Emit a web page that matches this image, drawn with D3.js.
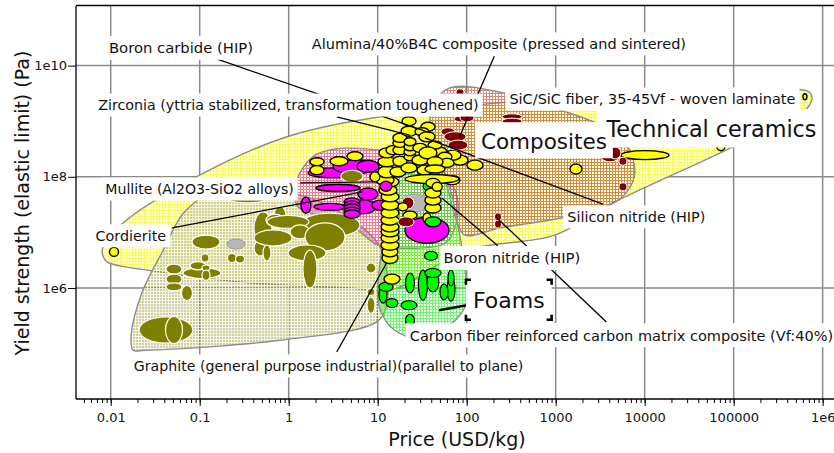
<!DOCTYPE html>
<html><head><meta charset="utf-8">
<script src="https://cdn.jsdelivr.net/npm/d3@7/dist/d3.min.js"></script>
<style>html,body{margin:0;padding:0;background:#fff}svg{display:block}text{font-family:"DejaVu Sans",Verdana,sans-serif;fill:#111}</style>
</head><body><svg id="c" width="834" height="453"></svg>
<script>
// All coordinates: log10(price USD/kg), log10(yield Pa). Bubbles: [logP, logY, halfSpanP, halfSpanY]
const envCeramics=[[-2.09,6.59],[-2.04,6.47],[-1.45,6.29],[-.43,6.09],[.69,6.0],[1.14,5.96],[2.0,6.68],[2.99,6.95],[3.64,7.53],[4.99,8.54],[5.84,9.26],[5.86,9.51],[4.62,9.47],[2.37,9.33],[1.03,9.08],[-.02,8.72],[-1.0,8.03],[-1.86,7.17],[-2.09,6.72]];
const envComposites=[[1.81,9.6],[2.41,9.51],[3.05,9.2],[3.5,8.93],[3.8,8.57],[3.89,8.07],[3.8,7.73],[3.61,7.49],[3.06,7.26],[2.37,7.08],[1.98,6.95],[1.89,7.19],[1.79,7.76],[1.59,8.84],[1.62,9.29]];
const envOlive=[[-1.75,4.885],[-1.77,5.15],[-1.65,5.91],[-1.41,6.68],[-1.17,7.37],[-.83,7.73],[.13,7.67],[.63,7.31],[1.0,6.81],[1.09,6.41],[1.1,5.69],[.99,5.39],[-.1,5.06],[-1.61,4.88]];
const envPink=[[.09,7.94],[.27,8.36],[.52,8.5],[1.03,8.48],[1.59,8.3],[1.87,7.76],[1.89,7.22],[1.76,6.81],[1.19,6.72],[1.0,6.77],[.69,7.13],[.24,7.35],[.09,7.49]];
const envFoams=[[1.0,5.96],[1.03,5.6],[1.19,5.24],[1.48,5.1],[1.81,5.33],[2.01,5.78],[1.98,6.32],[1.9,7.13],[1.76,7.94],[1.48,8.21],[1.19,7.94],[1.08,7.04]];

const oliveBubbles=[[.464,7.13,.337,.216],[-.322,6.72,.067,.144],[-.289,7.08,.101,.288],[-.098,7.31,.067,.162],[-.154,7.22,.101,.108],[-.008,7.19,.236,.117],[.127,7.01,.112,.126],[-.176,6.9,.213,.144],[.408,6.92,.225,.252],[.206,6.63,.213,.144],[-.244,6.63,.045,.144],[.239,6.34,.079,.342],[-1.379,5.245,.303,.234],[-1.289,5.245,.096,.243],[-.929,6.827,.157,.126],[-.637,6.54,.051,.081],[-.547,6.52,.051,.072],[-.974,6.27,.213,.099],[-1.289,6.34,.09,.09],[-1.289,6.16,.09,.09],[-1.289,6.02,.09,.072],[-.94,6.54,.045,.072],[-1.02,6.4,.09,.072],[-.929,6.36,.045,.054],[-.929,6.23,.045,.09],[-1.143,5.91,.062,.135],[.925,6.36,.056,.09],[.925,5.93,.045,.063],[.925,5.69,.045,.144],[-.469,7.62,.225,.09]];
const grayBubbles=[[-.592,6.79,.101,.09],[1.419,7.53,.157,.162]];
const magentaBubbles=[[.498,8.07,.281,.09],[.745,8.18,.247,.126],[.891,8.19,.124,.108],[.554,7.8,.247,.063],[.891,7.69,.112,.108],[.464,7.46,.18,.063],[.824,7.46,.157,.126],[.711,7.55,.09,.072],[.711,7.49,.09,.072],[.711,7.44,.09,.072],[.711,7.38,.09,.072],[.711,7.33,.09,.072],[.194,7.49,.056,.144],[1.026,7.49,.09,.09],[1.554,7.04,.247,.234]];
const oliveOnPink=[[.711,8.01,.124,.108]];
const maroonBack=[[1.644,8.48,.079,.126],[1.34,7.53,.067,.108]];
const greenBubbles=[[1.599,6.58,.073,.081],[1.363,6.09,.051,.18],[1.509,6.05,.051,.27],[1.621,6.11,.067,.18],[1.621,6.27,.09,.081],[1.824,5.98,.045,.216],[1.824,6.18,.034,.144],[1.745,5.93,.045,.144],[1.06,5.89,.045,.162],[1.093,6.02,.079,.081],[1.16,5.73,.067,.081],[1.352,5.69,.09,.081],[1.363,5.42,.051,.108],[1.565,7.83,.056,.072]];
const yellowBubbles=[[-1.963,6.65,.051,.081],[5.801,9.44,.022,.054],[4.857,8.54,.045,.072],[4.003,8.39,.27,.081],[3.228,8.14,.067,.09],[2.093,8.21,.09,.09],[1.925,8.3,.09,.09],[1.846,8.39,.09,.09],[1.835,7.94,.09,.081],[.318,8.27,.079,.072],[.318,8.12,.079,.081],[.565,8.28,.101,.081],[.745,8.37,.09,.081],[1.161,6.16,.09,.09],
[1.138,6.54,.09,.1],[1.138,6.65,.09,.09],[1.138,6.77,.101,.09],[1.138,6.9,.101,.09],[1.138,7.01,.101,.09],[1.138,7.1,.101,.09],[1.138,7.22,.101,.09],[1.138,7.35,.101,.09],[1.138,7.49,.101,.09],[1.138,7.64,.101,.09],[1.116,7.76,.101,.09],[1.138,7.91,.101,.09],[1.284,7.46,.056,.072],[1.363,7.31,.079,.072],[1.082,7.94,.101,.09],[.97,8.0,.056,.09],[1.104,8.09,.101,.108],[1.228,8.09,.09,.09],[1.104,8.27,.101,.09],[1.25,8.28,.079,.09],[1.104,8.43,.09,.09],[1.172,8.48,.079,.081],[1.25,8.48,.079,.081],[1.25,8.61,.079,.081],[1.25,8.7,.079,.081],[1.352,9.0,.079,.081],[1.363,8.36,.067,.072],[1.363,8.45,.067,.072],[1.363,8.54,.067,.072],[1.363,8.63,.067,.072],[1.352,8.82,.09,.09],[1.352,8.16,.09,.09],[1.565,8.9,.079,.081],[1.498,8.81,.079,.072],[1.554,8.72,.09,.09],[1.475,8.52,.079,.081],[1.7,8.45,.079,.081],[1.644,8.57,.079,.072],[1.756,8.36,.079,.081],[1.779,8.25,.079,.081],[1.475,8.3,.09,.09],[1.531,8.12,.09,.09],[1.565,8.43,.101,.108],[1.644,8.27,.09,.09],[1.644,8.14,.112,.072],[1.61,7.96,.303,.081],[1.554,7.26,.045,.09],[1.621,7.44,.09,.09],[1.621,7.58,.09,.09],[1.621,7.71,.09,.09],[1.621,7.89,.079,.081],[1.669,7.82,.056,.081]];
const magentaTop=[[1.093,7.83,.067,.09]];
const greenTop=[[1.621,7.19,.09,.09]];
const maroonFront=[[1.925,9.51,.045,.072],[1.947,9.04,.09,.054],[2.003,9.06,.079,.072],[2.51,9.08,.112,.054],[2.51,9.0,.112,.054],[1.79,8.81,.079,.072],[1.869,8.72,.124,.09],[1.902,8.57,.112,.09],[3.61,8.36,.101,.09],[3.666,8.43,.067,.108],[3.756,8.28,.045,.072],[3.756,7.82,.045,.072],[2.352,7.28,.039,.072],[2.352,7.15,.039,.072],[1.318,7.19,.09,.09]];

const leaders=[[-.81,10.12,1.59,8.79],[3.53,7.51,1.53,8.7],[.54,9.08,1.36,8.75],[2.31,10.17,1.92,8.72],[.13,7.89,.98,7.91],[-1.31,7.08,.83,7.73],[1.72,7.62,2.35,6.76],[2.34,7.26,3.57,5.39],[.54,4.85,1.1,6.45]];
const foamLeader=[1.69,5.6,2.0,5.69];

const labelTexts=["Boron carbide (HIP)","Alumina/40%B4C composite (pressed and sintered)","Zirconia (yttria stabilized, transformation toughened)","SiC/SiC fiber, 35-45Vf - woven laminate","Silicon nitride (HIP)","Boron nitride (HIP)","Carbon fiber reinforced carbon matrix composite (Vf:40%)","Mullite (Al2O3-SiO2 alloys)","Cordierite","Graphite (general purpose industrial)(parallel to plane)"];
const labelAt=[[-2.02,10.32],[.26,10.39],[-2.14,9.29],[2.48,9.4],[3.13,7.28],[1.74,6.54],[1.36,5.15],[-2.06,7.78],[-2.17,6.94],[-1.74,4.6]];
const labelPt=[14.8,14.5,14.25,14.5,14.45,14.8,14.55,14.1,14.3,14.15];
const bigTexts=["Technical ceramics","Composites","Foams"];
const bigAt=[[3.57,8.86],[2.16,8.64],[2.07,5.77]];
const xTickLabels=["0.01","0.1","1","10","100","1000","10000","100000","1e6"];
const xMajor=[1e-2,1e-1,1,10,100,1000,1e4,1e5,1e6];
const yTickLabels=["1e6","1e8","1e10"];
const yMajor=[1e6,1e8,1e10];

const svg=d3.select("#c");
const x=d3.scaleLog().domain([Math.pow(10,-2.39),Math.pow(10,6.195)]).range([76,840]);
const y=d3.scaleLog().domain([Math.pow(10,4.004),Math.pow(10,11.072)]).range([399,6]);
const X=l=>x(Math.pow(10,l)),Y=l=>y(Math.pow(10,l));

const defs=svg.append("defs");
function pat(id,col,size,bg,op){
  const p=defs.append("pattern").attr("id",id).attr("width",size).attr("height",size).attr("patternUnits","userSpaceOnUse");
  if(bg)p.append("rect").attr("width",size).attr("height",size).attr("fill",bg);
  p.append("rect").attr("width",size).attr("height",1).attr("fill",col).attr("opacity",op);
  p.append("rect").attr("y",1).attr("width",1).attr("height",size-1).attr("fill",col).attr("opacity",op);
}
pat("pCer","#ffff50",3,"#ffffe8",1);
pat("pCom","#b84f38",3,null,.65);
pat("pOli","#ffffff",3,"rgba(128,128,0,.38)",.8);
pat("pPin","#f040c0",3,null,.7);
pat("pFoa","#20f820",3,null,.65);

// grid
const g=svg.append("g").attr("stroke","#8a8a8a").attr("stroke-width",1.5);
g.selectAll("line.v").data(xMajor).join("line").attr("x1",d=>x(d)).attr("x2",d=>x(d)).attr("y1",6).attr("y2",399);
g.selectAll("line.h").data(yMajor).join("line").attr("y1",d=>y(d)).attr("y2",d=>y(d)).attr("x1",76).attr("x2",834);

// envelopes
const env=d3.line().x(d=>X(d[0])).y(d=>Y(d[1])).curve(d3.curveCatmullRomClosed.alpha(.5));
[[envCeramics,"pCer"],[envOlive,"pOli"],[envPink,"pPin"],[envComposites,"pCom"],[envFoams,"pFoa"]].forEach(([d,p])=>{
  svg.append("path").attr("d",env(d)).attr("fill","url(#"+p+")").attr("stroke","#8c8c8c").attr("stroke-width",1.4);
});

// bubbles
function bubbles(data,fill,stroke,sw){
  svg.append("g").selectAll("ellipse").data(data).join("ellipse")
    .attr("cx",d=>X(d[0])).attr("cy",d=>Y(d[1]))
    .attr("rx",d=>X(d[0]+d[2])-X(d[0])).attr("ry",d=>Y(d[1])-Y(d[1]+d[3]))
    .attr("fill",fill).attr("stroke",stroke).attr("stroke-width",sw);
}
bubbles(oliveBubbles,"#808000","#fff",1.2);
bubbles(grayBubbles,"#b8b8b8","#999",1);
bubbles(magentaBubbles,"#ff00ff","#000",1.4);
bubbles(oliveOnPink,"#808000","#fff",1.2);
bubbles(maroonBack,"#800000","#fff",1);
bubbles(greenBubbles,"#00f800","#000",1.2);
bubbles(yellowBubbles,"#ffff00","#000",1.4);
bubbles(magentaTop,"#ff00ff","#000",1.4);
bubbles(greenTop,"#00f800","#000",1.3);
bubbles(maroonFront,"#800000","#fff",1);

// leaders
svg.append("g").attr("stroke","#000").attr("stroke-width",1.3).selectAll("line").data(leaders).join("line")
  .attr("x1",d=>X(d[0])).attr("y1",d=>Y(d[1])).attr("x2",d=>X(d[2])).attr("y2",d=>Y(d[3]));
svg.append("line").attr("x1",X(foamLeader[0])).attr("y1",Y(foamLeader[1])).attr("x2",X(foamLeader[2])).attr("y2",Y(foamLeader[3])).attr("stroke","#000").attr("stroke-width",2.4);

// labels: white plates first, all words above them
const plates=svg.append("g"), words=svg.append("g");
function label(t,at,size,l,r,u,b){
  const rc=plates.append("rect").attr("fill","#fff");
  const tx=words.append("text").attr("x",X(at[0])).attr("y",Y(at[1])).attr("dominant-baseline","central").attr("font-size",size).text(t);
  const bb=tx.node().getBBox();
  const o={x:bb.x-l,y:bb.y-u,w:bb.width+l+r,h:bb.height+u+b};
  rc.attr("x",o.x).attr("y",o.y).attr("width",o.w).attr("height",o.h);
  return o;
}
labelTexts.forEach((t,i)=>label(t,labelAt[i],labelPt[i],4,4,3.5,3.5));
label(bigTexts[0],bigAt[0],22.3,8,2,7,5.5);
label(bigTexts[1],bigAt[1],21.5,6,6,6.5,4.5);
const f=label(bigTexts[2],bigAt[2],22,7,7,8.5,6.5);
const hs=5;
[[f.x,f.y,1,1],[f.x+f.w,f.y,-1,1],[f.x,f.y+f.h,1,-1],[f.x+f.w,f.y+f.h,-1,-1]].forEach(([a,b,s,u])=>{
  svg.append("path").attr("d",`M${a+s*hs},${b}H${a}V${b+u*hs}`).attr("fill","none").attr("stroke","#000").attr("stroke-width",2.6);
});

// frame + axes
const ax=svg.append("g");
ax.append("line").attr("x1",76).attr("x2",76).attr("y1",6).attr("y2",399).attr("stroke","#000").attr("stroke-width",1.3);
ax.append("line").attr("x1",76).attr("x2",834).attr("y1",5.5).attr("y2",5.5).attr("stroke","#000").attr("stroke-width",1.3);
const xa=d3.axisBottom(x).tickValues(x.ticks().filter(d=>d<=1e6)).tickSize(4).tickFormat("");
const xg=svg.append("g").attr("transform","translate(0,399)").call(xa);
xg.select(".domain").attr("d","M76,0H834").attr("stroke-width",1.3);
xg.selectAll(".tick line").attr("stroke-width",1);
const xa2=d3.axisBottom(x).tickValues(xMajor).tickSize(7).tickPadding(4).tickFormat((d,i)=>xTickLabels[i]);
const xg2=svg.append("g").attr("transform","translate(0,399)").call(xa2);
xg2.select(".domain").remove();
xg2.selectAll("text").attr("font-size",13).attr("dy","0.9em").attr("font-family",'"DejaVu Sans"');
const ya=d3.axisLeft(y).tickValues(yMajor).tickSize(8).tickPadding(1).tickFormat((d,i)=>yTickLabels[i]);
const yg=svg.append("g").attr("transform","translate(76,0)").call(ya);
yg.select(".domain").remove();
yg.selectAll("text").attr("font-size",13).attr("font-family",'"DejaVu Sans"');
svg.append("text").attr("x",457).attr("y",439).attr("text-anchor","middle").attr("dominant-baseline","central").attr("font-size",19).text("Price (USD/kg)");
svg.append("text").attr("transform","translate(22,203) rotate(-90)").attr("text-anchor","middle").attr("dominant-baseline","central").attr("font-size",19).text("Yield strength (elastic limit) (Pa)");
</script></body></html>
